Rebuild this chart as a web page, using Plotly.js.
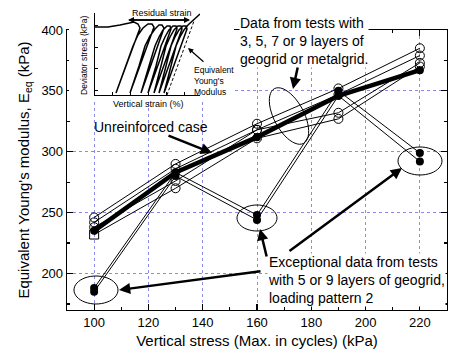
<!DOCTYPE html>
<html><head><meta charset="utf-8">
<script src="https://cdn.plot.ly/plotly-3.0.1.min.js"></script>
<style>html,body{margin:0;padding:0;background:#fff}</style>
</head><body><div id="chart" style="width:451px;height:353px"></div>
<script>
// ---- main chart data ----
const verticalStress = [100, 130, 160, 190, 220];
const unreinforced = [235, 283, 312, 346, 367];
const reinfA = [246, 290, 323, 352, 385];
const reinfB = [242, 286, 318, 347, 379];
const reinfC = [238, 276, 318, 332, 373];
const reinfD = [232, 270, 311, 327, 370];
const exceptA = [188, 283, 248, 350, 299];
const exceptB = [185, 280, 244, 346, 292];
const xTickVals = [100, 120, 140, 160, 180, 200, 220];
const yTickVals = [200, 250, 300, 350, 400];

// ---- inset schematic (cyclic loading loops) ----
const insetStrain = [95,108,120,128,134,138,140, 116,
  126,133,138,143,148,152,154, 130,
  139,145,150,155,159,162,164, 141,
  149,155,159,163,167,170,171, 148,
  156,161,165,169,173,176,177, 154,
  161,166,170,174,178,181,182, 159,
  166,171,175,179,183,186,187, 164,
  171,176,180,184,188,192,196,200];
const insetStress = [68,68,70,72,73,71,67, 2,
  29,49,60,67,71,71,68, 2,
  29,49,59,66,70,70,67, 2,
  29,49,58,65,69,69,66, 2,
  29,49,58,65,69,69,66, 2,
  29,49,58,65,69,69,66, 2,
  29,49,58,65,69,69,66, 2,
  29,49,58,65,70,74,78,81];
const secantStrain = [167, 194];
const secantStress = [0, 74];

// ---- geometry (px) ----
const FW = 451, FH = 353, ML = 67, MR = 4, MT = 4, MB = 43;
const PW = FW - ML - MR, PH = FH - MT - MB;
const px2x = p => (p - ML) / PW;            // paper x
const py2y = p => (FH - MB - p) / PH;       // paper y
const FONT = 'Arial, "Liberation Sans", sans-serif';

const open = (y, sym) => ({
  x: verticalStress, y: y, type: 'scatter', mode: 'lines+markers',
  line: {color: '#000', width: 1},
  marker: {symbol: sym || 'circle-open', size: 9, color: '#000', line: {width: 1, color: '#000'}},
  cliponaxis: false, showlegend: false, hoverinfo: 'skip'
});
const filled = (y, w, s) => ({
  x: verticalStress, y: y, type: 'scatter', mode: 'lines+markers',
  line: {color: '#000', width: w},
  marker: {symbol: 'circle', size: s, color: '#000'},
  cliponaxis: false, showlegend: false, hoverinfo: 'skip'
});

const traces = [
  open(reinfA), open(reinfB), open(reinfC),
  Object.assign(open(reinfD), {marker: {symbol: ['square-open','circle-open','circle-open','circle-open','circle-open'], size: 9, color: '#000', line: {width: 1, color: '#000'}}}),
  filled(exceptA, 1, 8), filled(exceptB, 1, 8),
  filled(unreinforced, 4.5, 8),
  {x: [], y: [], xaxis: 'x2', yaxis: 'y2', type: 'scatter', showlegend: false},
  {x: insetStrain, y: insetStress, xaxis: 'x3', yaxis: 'y3', type: 'scatter', mode: 'lines',
   line: {color: '#000', width: 1.5}, showlegend: false, hoverinfo: 'skip'},
  {x: secantStrain, y: secantStress, xaxis: 'x3', yaxis: 'y3', type: 'scatter', mode: 'lines',
   line: {color: '#000', width: 1, dash: '3px,2px'}, showlegend: false, hoverinfo: 'skip'}
];

// ellipse path helper (px centre, radii, rotation deg) -> paper path
function ellipse(cx, cy, rx, ry, rot) {
  const a = rot * Math.PI / 180; let d = '';
  for (let i = 0; i <= 48; i++) {
    const t = i / 48 * 2 * Math.PI;
    const ex = rx * Math.cos(t), ey = ry * Math.sin(t);
    const X = cx + ex * Math.cos(a) - ey * Math.sin(a);
    const Y = cy + ex * Math.sin(a) + ey * Math.cos(a);
    d += (i ? 'L' : 'M') + px2x(X).toFixed(4) + ',' + py2y(Y).toFixed(4);
  }
  return {type: 'path', xref: 'paper', yref: 'paper', path: d + 'Z', layer: 'above',
          line: {color: '#000', width: 1}};
}

const arrow = (x0, y0, x1, y1, w, size) => ({
  xref: 'paper', yref: 'paper', axref: 'pixel', ayref: 'pixel',
  x: px2x(x1), y: py2y(y1), ax: x0 - x1, ay: y0 - y1, text: '',
  showarrow: true, arrowhead: 2, arrowsize: size || 1, arrowwidth: w, arrowcolor: '#000'
});
const label = (txt, x, y, size, opts) => Object.assign({
  xref: 'paper', yref: 'paper', x: px2x(x), y: py2y(y), text: txt, showarrow: false,
  xanchor: 'left', yanchor: 'middle', align: 'left', font: {family: FONT, size: size, color: '#000'}
}, opts || {});

const layout = {
  width: FW, height: FH, margin: {l: ML, r: MR, t: MT, b: MB},
  paper_bgcolor: '#fff', plot_bgcolor: '#fff', font: {family: FONT, color: '#000'},
  xaxis: {range: [90, 230], domain: [0, 1], anchor: 'y', tickvals: xTickVals,
    showline: true, linecolor: '#000', linewidth: 1.3, mirror: 'ticks',
    ticks: 'inside', ticklen: 6, tickwidth: 1.2, tickcolor: '#000',
    minor: {dtick: 10, tick0: 0, ticks: 'inside', ticklen: 3, tickcolor: '#000', showgrid: false},
    showgrid: true, gridcolor: '#8c8ce8', griddash: 'dot', gridwidth: 1, zeroline: false,
    tickfont: {size: 13, family: FONT},
    title: {text: 'Vertical stress (Max. in cycles) (kPa)', font: {size: 15, family: FONT}, standoff: 6}},
  yaxis: {range: [170, 400], domain: [0, py2y(30)], anchor: 'x', tickvals: yTickVals,
    showline: true, linecolor: '#000', linewidth: 1.3, mirror: 'ticks',
    ticks: 'inside', ticklen: 6, tickwidth: 1.2, tickcolor: '#000',
    minor: {dtick: 25, tick0: 0, ticks: 'inside', ticklen: 3, tickcolor: '#000', showgrid: false},
    showgrid: true, gridcolor: '#8c8ce8', griddash: 'dot', gridwidth: 1, zeroline: false,
    tickfont: {size: 13, family: FONT},
    title: {text: "Equivalent Young's modulus, E<sub>eq</sub> (kPa)", font: {size: 15, family: FONT}, standoff: 8}},
  xaxis2: {domain: [px2x(69), px2x(234)], range: [0, 1], anchor: 'y2', visible: false, fixedrange: true},
  yaxis2: {domain: [py2y(100), 1], range: [0, 1], anchor: 'x2', visible: false, fixedrange: true},
  xaxis3: {domain: [px2x(95), px2x(200)], range: [95, 200], anchor: 'y3', showline: true, linecolor: '#000',
    linewidth: 1, ticks: 'inside', ticklen: 3, tickcolor: '#000', tickvals: [112, 130, 148, 166, 184],
    showticklabels: false, showgrid: false, zeroline: false},
  yaxis3: {domain: [py2y(95), py2y(13)], range: [0, 82], anchor: 'x3', showline: true, linecolor: '#000',
    linewidth: 1, ticks: 'inside', ticklen: 3, tickcolor: '#000', tickvals: [5, 27, 48, 70],
    showticklabels: false, showgrid: false, zeroline: false},
  shapes: [
    {type: 'rect', xref: 'x2', yref: 'y2', x0: 0, x1: 1, y0: 0, y1: 1, fillcolor: '#fff', line: {width: 0}, layer: 'below'},
    ellipse(96, 290, 22, 14, 0),
    ellipse(257, 218, 20, 13, 0),
    ellipse(420, 161, 22, 14, 0),
    ellipse(289, 116, 31, 15, 62)
  ],
  annotations: [
    label('Residual strain', 130, 13, 9),
    arrow(128, 20, 190, 20, 1.5, 0.8),
    arrow(190, 20, 128, 20, 1.5, 0.8),
    label('Deviator stress (kPa)', 84, 55, 8.5, {textangle: -90, xanchor: 'center'}),
    label('Vertical strain (%)', 148, 104, 9, {xanchor: 'center'}),
    label("Equivalent<br>Young's<br>Modulus", 192, 81, 8.5),
    arrow(205, 63, 188, 48, 1.2, 0.9),
    label('Unreinforced case', 92, 127, 14),
    label('Data from tests with<br>3, 5, 7 or 9 layers of<br>geogrid or metalgrid.', 239, 41, 14, {bgcolor: '#fff', borderpad: 0}),
    label('Exceptional data from tests<br>with 5 or 9 layers of geogrid,<br>loading pattern 2', 267, 280, 14, {bgcolor: '#fff', borderpad: 0}),
    arrow(167, 135, 212, 153, 2.5, 0.9),
    arrow(298, 66, 293, 89, 2.5, 0.9),
    arrow(262, 271, 119, 290, 2.5, 0.9),
    arrow(267, 258, 260, 229, 2.5, 0.9),
    arrow(288, 252, 402, 168, 2.5, 0.9)
  ]
};

Plotly.newPlot('chart', traces, layout, {staticPlot: true, displayModeBar: false});
</script></body></html>
